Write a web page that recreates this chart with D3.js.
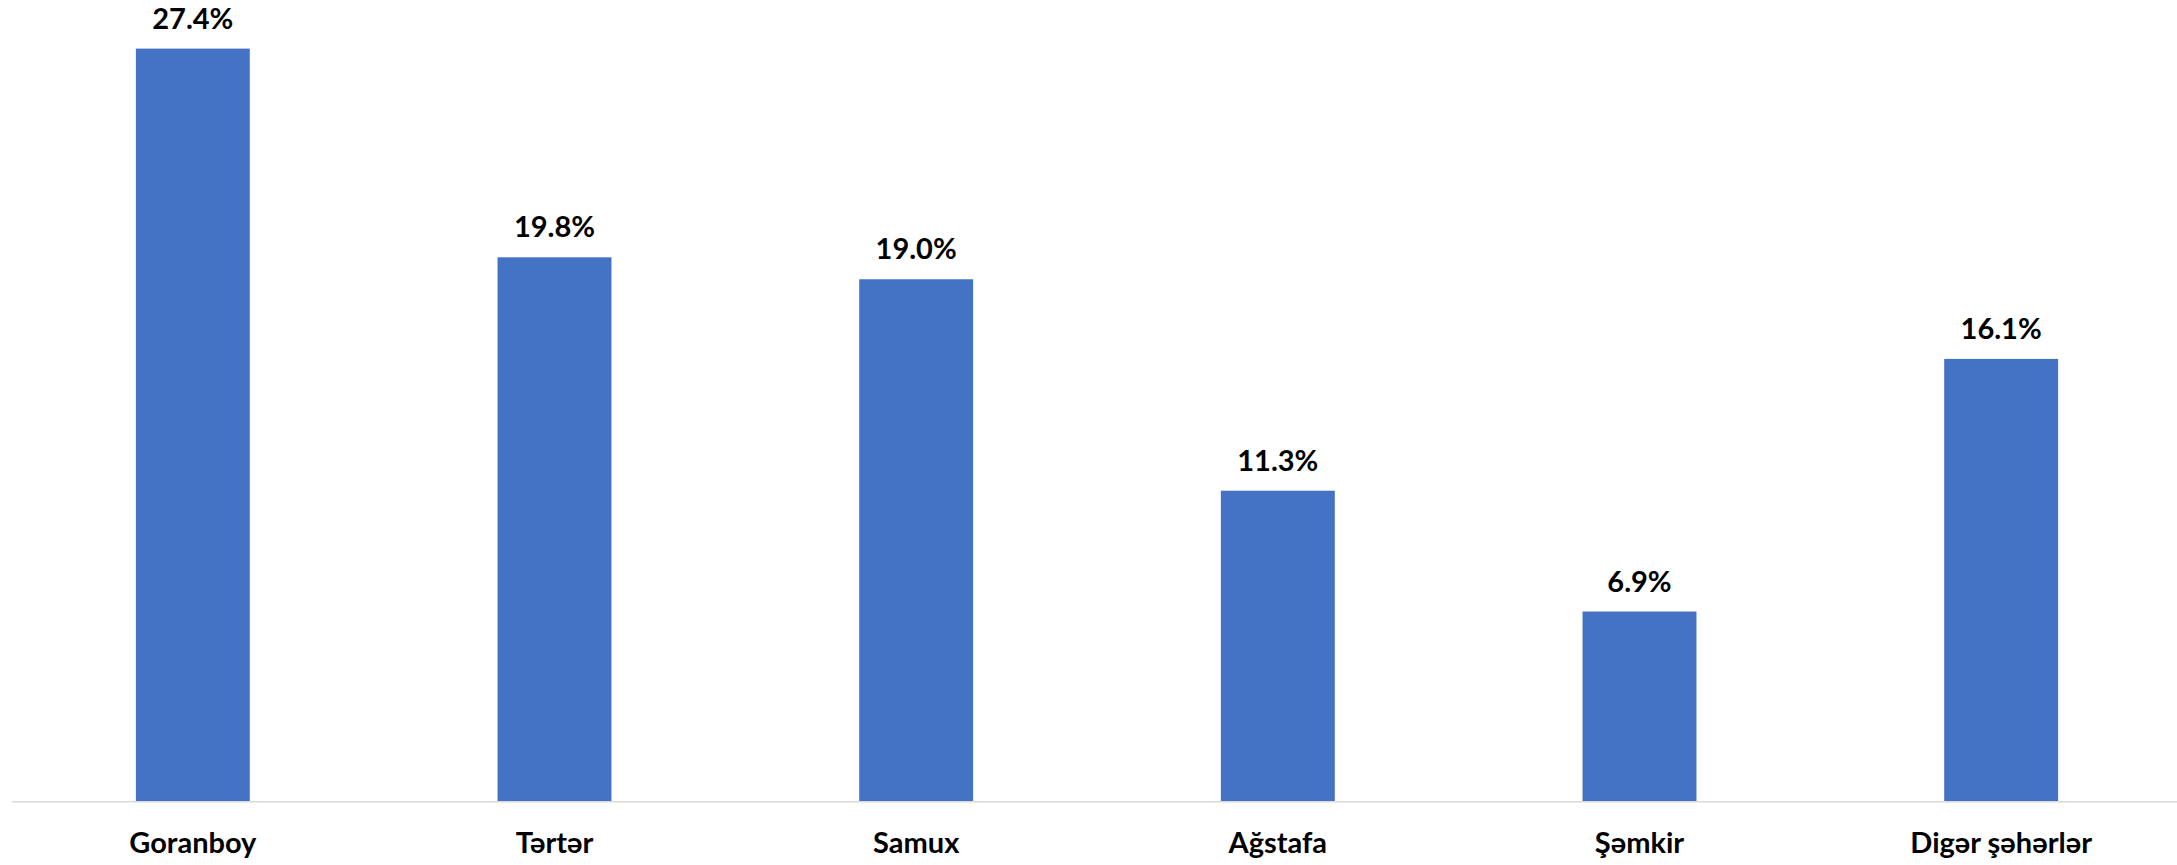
<!DOCTYPE html>
<html>
<head>
<meta charset="utf-8">
<script src="https://cdn.jsdelivr.net/npm/d3@7"></script>
<style>
  body { margin: 0; background: #fff; }
  text { font-family: Lato, "Open Sans", sans-serif; font-weight: bold; fill: #000; }
</style>
</head>
<body>
<div id="viz"></div>
<script>
const categories = ['Goranboy', 'Tərtər', 'Samux', 'Ağstafa', 'Şəmkir', 'Digər şəhərlər'];
const values = [27.4, 19.8, 19.0, 11.3, 6.9, 16.1];

const width = 2177;
const height = 865;
const baseY = 801;

const x = d3.scaleBand()
  .domain(categories)
  .range([12, 2182])
  .paddingInner(0.685)
  .paddingOuter(0.3425);

const y = d3.scaleLinear()
  .domain([0, 28])
  .range([baseY, baseY - 28 * 27.46]);

const svg = d3.select('#viz')
  .append('svg')
  .attr('width', width)
  .attr('height', height);

const data = categories.map((c, i) => ({ name: c, value: values[i] }));

svg.selectAll('rect.bar')
  .data(data)
  .enter()
  .append('rect')
  .attr('class', 'bar')
  .attr('x', d => x(d.name))
  .attr('width', x.bandwidth())
  .attr('y', d => y(d.value))
  .attr('height', d => y(0) - y(d.value))
  .style('fill', '#4472C4');

// baseline
svg.append('line')
  .attr('x1', 12)
  .attr('x2', width)
  .attr('y1', y(0) + 0.75)
  .attr('y2', y(0) + 0.75)
  .style('stroke', '#D9D9D9')
  .style('stroke-width', 1.5);

svg.selectAll('text.val')
  .data(data)
  .enter()
  .append('text')
  .attr('class', 'val')
  .attr('x', d => x(d.name) + x.bandwidth() / 2)
  .attr('y', d => y(d.value) - 20)
  .attr('text-anchor', 'middle')
  .style('font-size', '29px')
  .text(d => d.value.toFixed(1) + '%');

svg.selectAll('text.cat')
  .data(data)
  .enter()
  .append('text')
  .attr('class', 'cat')
  .attr('x', d => x(d.name) + x.bandwidth() / 2)
  .attr('y', 853)
  .attr('text-anchor', 'middle')
  .style('font-size', '29px')
  .text(d => d.name);
</script>
</body>
</html>
